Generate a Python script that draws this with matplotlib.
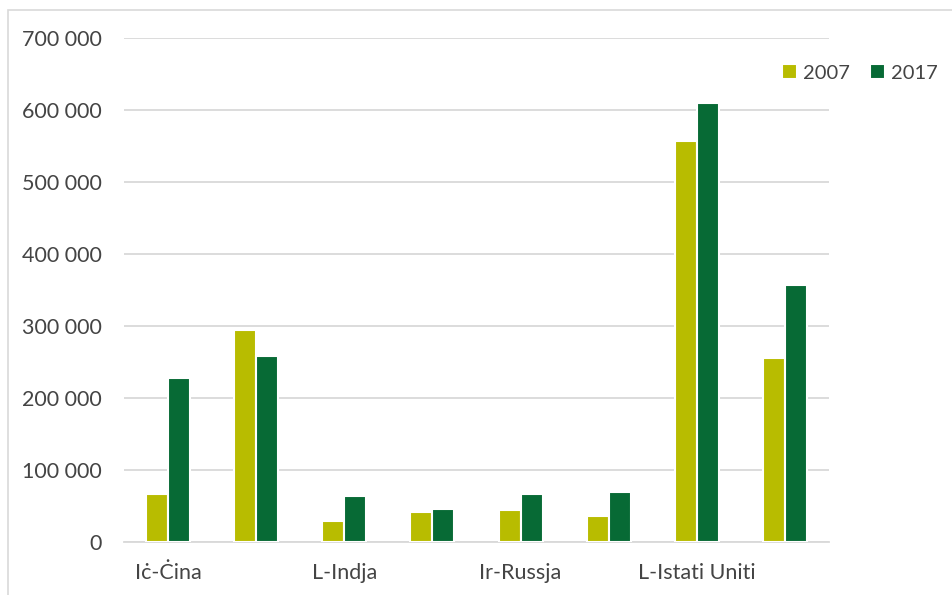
import matplotlib.pyplot as plt
import numpy as np
from matplotlib.patches import Rectangle
from matplotlib.ticker import FuncFormatter, MultipleLocator

plt.rcParams["font.family"] = ["Lato", "DejaVu Sans"]

labels = ["Iċ-Ċina", "", "L-Indja", "", "Ir-Russja", "", "L-Istati Uniti", ""]
years = ["2007", "2017"]
v2007 = [67000, 294000, 28700, 42100, 44900, 36500, 557000, 255400]
v2017 = [227200, 257800, 64300, 45400, 67000, 69800, 609400, 356700]
colors = ["#b8bc00", "#076a35"]

text_color = "#444444"
grid_color = "#d9d9d9"

fig = plt.figure(figsize=(9.52, 5.95), dpi=100)
ax = fig.add_axes([124 / 952, 1 - 542 / 595, 705 / 952, (542 - 37.7) / 595])

x = np.arange(len(labels))
w = 0.25
ax.bar(x - w / 2, v2007, w, color=colors[0], edgecolor="white", linewidth=1.5, label=years[0], zorder=3)
ax.bar(x + w / 2, v2017, w, color=colors[1], edgecolor="white", linewidth=1.5, label=years[1], zorder=3)

ax.set_xlim(-0.5, len(labels) - 0.5)
ax.set_ylim(0, 700000)
ax.yaxis.set_major_locator(MultipleLocator(100000))
ax.yaxis.set_major_formatter(FuncFormatter(lambda v, p: f"{v:,.0f}".replace(",", " ")))
ax.set_xticks(x)
ax.set_xticklabels(labels)

ax.grid(axis="y", color=grid_color, linewidth=1.3, zorder=0)
for s in ["top", "right", "left"]:
    ax.spines[s].set_visible(False)
ax.spines["bottom"].set_color(grid_color)
ax.spines["bottom"].set_linewidth(1.3)
ax.tick_params(axis="both", length=0, labelsize=15.5, colors=text_color)
ax.tick_params(axis="y", pad=16)
ax.tick_params(axis="x", pad=15)

leg = fig.legend(loc="center right", bbox_to_anchor=(1.004, 1 - 73 / 595), ncol=2, frameon=False,
                 fontsize=14.5, handlelength=0.75, handleheight=0.75, handletextpad=0.3,
                 columnspacing=1.0, labelcolor=text_color)

fig.patches.append(Rectangle((8 / 952, -0.1), 1.2, 1.1 - 10 / 595, transform=fig.transFigure,
                             fill=False, edgecolor=grid_color, linewidth=1.2))

fig.savefig("out.png", dpi=100)
